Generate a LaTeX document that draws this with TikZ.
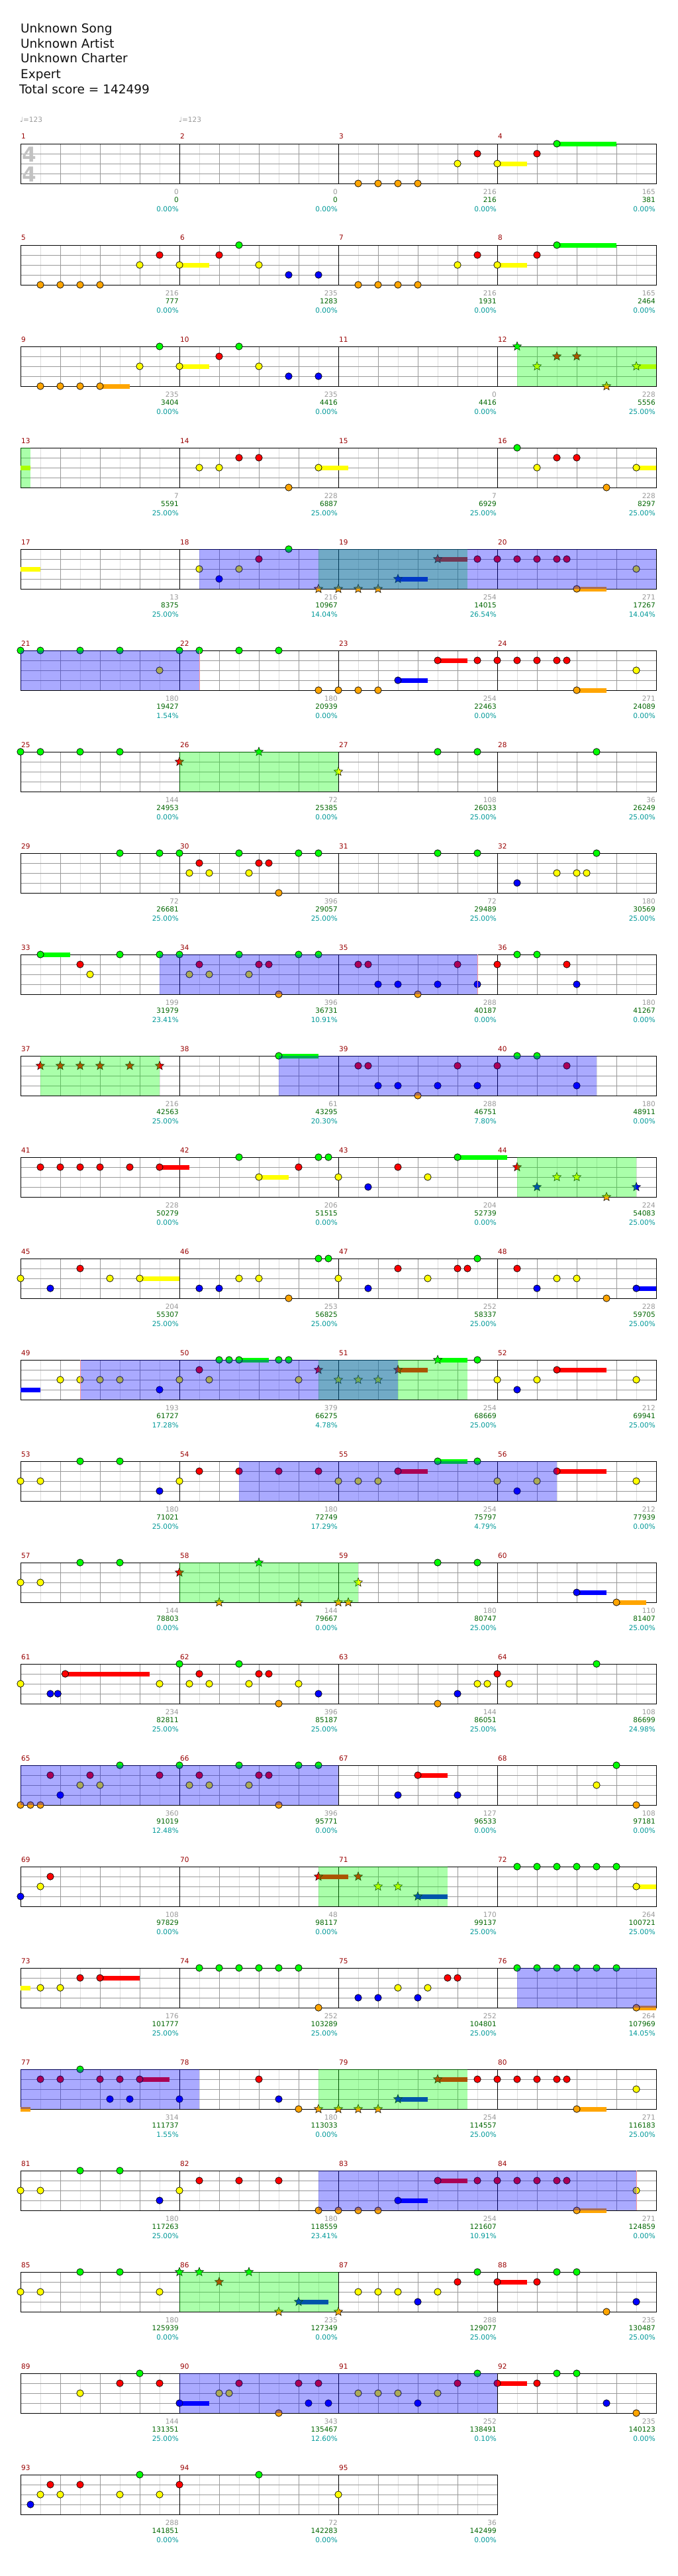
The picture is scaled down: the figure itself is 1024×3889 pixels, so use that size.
\documentclass[tikz,border=0pt]{standalone}
\usepackage{fontspec}
\setmainfont{DejaVu Sans}
\usetikzlibrary{shapes.geometric}
\definecolor{cG}{HTML}{00FF00}
\definecolor{cR}{HTML}{FF0000}
\definecolor{cY}{HTML}{FFFF00}
\definecolor{cB}{HTML}{0000FF}
\definecolor{cO}{HTML}{FFA500}
\definecolor{gridlight}{HTML}{DDDDDD}
\definecolor{gridmid}{HTML}{999999}
\definecolor{lblgray}{HTML}{999999}
\definecolor{lblgreen}{HTML}{006600}
\definecolor{lblteal}{HTML}{009999}
\definecolor{mnumred}{HTML}{990000}
\definecolor{edgec}{HTML}{FF9999}
\definecolor{hdrc}{HTML}{111111}
\tikzset{
 L0/.style={fill=cG}, L1/.style={fill=cR}, L2/.style={fill=cY}, L3/.style={fill=cB}, L4/.style={fill=cO},
 C0/.style={draw=cG}, C1/.style={draw=cR}, C2/.style={draw=cY}, C3/.style={draw=cB}, C4/.style={draw=cO},
 note/.style={draw=black, line width=0.7pt},
 starn/.style={star, star points=5, star point ratio=2.3, minimum size=14pt, inner sep=0pt, draw=black, line width=0.5pt},
 sus/.style={line width=7pt, line cap=butt},
 rowsc/.style={shift={(31pt,{-(217+153*(#1-1))*1pt})}, x=30pt, y=-15pt},
 gl/.style={draw=gridlight, line width=1pt},
 gm/.style={draw=gridmid, line width=1pt},
 smallf/.style={font=\fontsize{10.5}{12}\selectfont},
 lblg/.style={smallf, anchor=base east, inner sep=0pt, xshift=-1pt, text=lblgray},
 lbls/.style={smallf, anchor=base east, inner sep=0pt, xshift=-1pt, text=lblgreen},
 lblp/.style={smallf, anchor=base east, inner sep=0pt, xshift=-1pt, text=lblteal},
 mnum/.style={smallf, anchor=base west, inner sep=0pt, xshift=1pt, text=mnumred},
 hdr/.style={anchor=base west, inner sep=0pt, text=hdrc, font=\fontsize{18.5}{22}\selectfont},
}
\newcommand\Staff[2]{%
 \pgfmathtruncatemacro\NS{8*#2}%
 \pgfmathtruncatemacro\NL{\NS-1}%
 \foreach \i in {1,3,...,\NL} \draw[gl] (\i,0) -- (\i,4);
 \foreach \m in {1,...,#2} \foreach \b in {2,4,6} \draw[gm] ({8*(\m-1)+\b},0) -- ({8*(\m-1)+\b},4);
 \foreach \l in {1,2,3} \draw[gm] (0,\l) -- (\NS,\l);
 \foreach \m in {2,...,#2} \draw[black, line width=1pt] ({8*(\m-1)},0) -- ({8*(\m-1)},4);
 \draw[black, line width=1pt] (0,0) rectangle (\NS,4);
 \foreach \m in {1,...,#2} {\pgfmathtruncatemacro\mn{4*(#1-1)+\m}\node[mnum] at ({8*(\m-1)},-0.467) {\mn};}
}
\newcommand\Ns[2]{\foreach \q in {#2}{\filldraw[note,L#1] (\q,#1) circle[radius=5.2pt];}}
\newcommand\Ss[2]{\foreach \q in {#2}{\node[starn,L#1] at (\q,#1) {};}}
\newcommand\Su[3]{\draw[sus,C#1] (#2,#1) -- (#3,#1);}
\newcommand\GR[2]{\fill[cG, fill opacity=0.333] (#1,0) rectangle (#2,4);}
\newcommand\BR[2]{\fill[cB, fill opacity=0.333] (#1,0) rectangle (#2,4);}
\newcommand\Edge[1]{\draw[edgec, line width=1pt] (#1,0) -- (#1,4);}
\newcommand\Lab[4]{\node[lblg] at (8*#1,5.07) {#2}; \node[lbls] at (8*#1,5.93) {#3}; \node[lblp] at (8*#1,6.8) {#4\%};}
\begin{document}
\begin{tikzpicture}
\useasboundingbox[fill=white] (0,0) rectangle (1024pt,-3889pt);
% header
\node[hdr] (song) at (31pt,-49pt) {Unknown Song};
\node[hdr] (artist) at (31pt,-72pt) {Unknown Artist};
\node[hdr] (charter) at (31pt,-95pt) {Unknown Charter};
\node[hdr] (diff) at (31pt,-118pt) {Expert};
\node[hdr] (total) at (29pt,-141pt) {Total score = 142499};
\node[smallf, anchor=base west, inner sep=0pt, text=lblgray] (tempoa) at (30pt,-184pt) {♩=123};
\node[smallf, anchor=base west, inner sep=0pt, text=lblgray] (tempob) at (270pt,-184pt) {♩=123};
% row 1
\begin{scope}[rowsc=1]
\Staff{1}{4}
\node[inner sep=0pt, text=gridlight!60!gridmid, font=\bfseries\fontsize{31}{31}\selectfont] (tsa) at (0.45,1.1) {4};
\node[inner sep=0pt, text=gridlight!60!gridmid, font=\bfseries\fontsize{31}{31}\selectfont] (tsb) at (0.45,3.07) {4};
\Su{2}{24}{25.5}\Su{0}{27}{30}
\Ns{4}{17,18,19,20}\Ns{2}{22,24}\Ns{1}{23,26}\Ns{0}{27}
\Lab{1}{0}{0}{0.00}\Lab{2}{0}{0}{0.00}\Lab{3}{216}{216}{0.00}\Lab{4}{165}{381}{0.00}
\end{scope}
% row 2
\begin{scope}[rowsc=2]
\Staff{2}{4}
\Su{2}{8}{9.5}\Su{2}{24}{25.5}\Su{0}{27}{30}
\Ns{4}{1,2,3,4,17,18,19,20}\Ns{2}{6,8,12,22,24}\Ns{1}{7,10,23,26}\Ns{0}{11,27}\Ns{3}{13.5,15}
\Lab{1}{216}{777}{0.00}\Lab{2}{235}{1283}{0.00}\Lab{3}{216}{1931}{0.00}\Lab{4}{165}{2464}{0.00}
\end{scope}
% row 3
\begin{scope}[rowsc=3]
\Staff{3}{4}
\Su{4}{4}{5.5}\Su{2}{8}{9.5}\Su{2}{31}{32}
\Ns{4}{1,2,3,4}\Ns{2}{6,8,12}\Ns{0}{7,11}\Ns{1}{10}\Ns{3}{13.5,15}
\Ss{0}{25}\Ss{2}{26,31}\Ss{1}{27,28}\Ss{4}{29.5}
\GR{25}{32}
\Lab{1}{235}{3404}{0.00}\Lab{2}{235}{4416}{0.00}\Lab{3}{0}{4416}{0.00}\Lab{4}{228}{5556}{25.00}
\end{scope}
% row 4
\begin{scope}[rowsc=4]
\Staff{4}{4}
\Su{2}{0}{0.5}\Su{2}{15}{16.5}\Su{2}{31}{32}
\Ns{2}{9,10,15,26,31}\Ns{1}{11,12,27,28}\Ns{4}{13.5,29.5}\Ns{0}{25}
\GR{0}{0.5}
\Lab{1}{7}{5591}{25.00}\Lab{2}{228}{6887}{25.00}\Lab{3}{7}{6929}{25.00}\Lab{4}{228}{8297}{25.00}
\end{scope}
% row 5
\begin{scope}[rowsc=5]
\Staff{5}{4}
\Su{2}{0}{1}\Su{3}{19}{20.5}\Su{1}{21}{22.5}\Su{4}{28}{29.5}
\Ns{2}{9,11,31}\Ns{3}{10}\Ns{1}{12,23,24,25,26,27,27.5}\Ns{0}{13.5}\Ns{4}{28}
\Ss{4}{15,16,17,18}\Ss{3}{19}\Ss{1}{21}
\GR{15}{22.5}\BR{9}{32}
\Lab{1}{13}{8375}{25.00}\Lab{2}{216}{10967}{14.04}\Lab{3}{254}{14015}{26.54}\Lab{4}{271}{17267}{14.04}
\end{scope}
% row 6
\begin{scope}[rowsc=6]
\Staff{6}{4}
\Su{3}{19}{20.5}\Su{1}{21}{22.5}\Su{4}{28}{29.5}
\Ns{0}{0,1,3,5,8,9,11,13}\Ns{2}{7,31}\Ns{4}{15,16,17,18,28}\Ns{3}{19}\Ns{1}{21,23,24,25,26,27,27.5}
\BR{0}{9}\Edge{9}
\Lab{1}{180}{19427}{1.54}\Lab{2}{180}{20939}{0.00}\Lab{3}{254}{22463}{0.00}\Lab{4}{271}{24089}{0.00}
\end{scope}
% row 7
\begin{scope}[rowsc=7]
\Staff{7}{4}
\Ns{0}{0,1,3,5,21,23,29}
\Ss{1}{8}\Ss{0}{12}\Ss{2}{16}
\GR{8}{16}
\Lab{1}{144}{24953}{0.00}\Lab{2}{72}{25385}{0.00}\Lab{3}{108}{26033}{25.00}\Lab{4}{36}{26249}{25.00}
\end{scope}
% row 8
\begin{scope}[rowsc=8]
\Staff{8}{4}
\Ns{0}{5,7,8,11,14,15,21,23,29}\Ns{1}{9,12,12.5}\Ns{2}{8.5,9.5,11.5,27,28,28.5}\Ns{4}{13}\Ns{3}{25}
\Lab{1}{72}{26681}{25.00}\Lab{2}{396}{29057}{25.00}\Lab{3}{72}{29489}{25.00}\Lab{4}{180}{30569}{25.00}
\end{scope}
% row 9
\begin{scope}[rowsc=9]
\Staff{9}{4}
\Su{0}{1}{2.5}
\Ns{0}{1,5,7,8,11,14,15,25,26}\Ns{1}{3,9,12,12.5,17,17.5,22,24,27.5}\Ns{2}{3.5,8.5,9.5,11.5}\Ns{4}{13,20}\Ns{3}{18,19,21,23,28}
\BR{7}{23}\Edge{23}
\Lab{1}{199}{31979}{23.41}\Lab{2}{396}{36731}{10.91}\Lab{3}{288}{40187}{0.00}\Lab{4}{180}{41267}{0.00}
\end{scope}
% row 10
\begin{scope}[rowsc=10]
\Staff{10}{4}
\Su{0}{13}{15}
\Ss{1}{1,2,3,4,5.5,7}
\Ns{0}{13,25,26}\Ns{1}{17,17.5,22,24,27.5}\Ns{3}{18,19,21,23,28}\Ns{4}{20}
\GR{1}{7}\BR{13}{29}
\Lab{1}{216}{42563}{25.00}\Lab{2}{61}{43295}{20.30}\Lab{3}{288}{46751}{7.80}\Lab{4}{180}{48911}{0.00}
\end{scope}
% row 11
\begin{scope}[rowsc=11]
\Staff{11}{4}
\Su{1}{7}{8.5}\Su{2}{12}{13.5}\Su{0}{22}{24.5}
\Ns{1}{1,2,3,4,5.5,7,14,19}\Ns{0}{11,15,15.5,22}\Ns{2}{12,16,20.5}\Ns{3}{17.5}
\Ss{1}{25}\Ss{3}{26,31}\Ss{2}{27,28}\Ss{4}{29.5}
\GR{25}{31}
\Lab{1}{228}{50279}{0.00}\Lab{2}{206}{51515}{0.00}\Lab{3}{204}{52739}{0.00}\Lab{4}{224}{54083}{25.00}
\end{scope}
% row 12
\begin{scope}[rowsc=12]
\Staff{12}{4}
\Su{2}{6}{8}\Su{3}{31}{32}
\Ns{2}{0,4.5,6,11,12,16,20.5,27,28}\Ns{3}{1.5,9,10,17.5,26,31}\Ns{1}{3,19,22,22.5,25}\Ns{4}{13.5,29.5}\Ns{0}{15,15.5,23}
\Lab{1}{204}{55307}{25.00}\Lab{2}{253}{56825}{25.00}\Lab{3}{252}{58337}{25.00}\Lab{4}{228}{59705}{25.00}
\end{scope}
% row 13
\begin{scope}[rowsc=13]
\Staff{13}{4}
\Su{3}{0}{1}\Su{0}{11}{12.5}\Su{1}{19}{20.5}\Su{0}{21}{22.5}\Su{1}{27}{29.5}
\Ns{2}{2,3,4,5,8,9.5,14,24,26,31}\Ns{3}{7,25}\Ns{1}{9,27}\Ns{0}{10,10.5,11,13,13.5,23}
\Ss{1}{15,19}\Ss{2}{16,17,18}\Ss{0}{21}
\GR{15}{22.5}\BR{3}{19}\Edge{3}
\Lab{1}{193}{61727}{17.28}\Lab{2}{379}{66275}{4.78}\Lab{3}{254}{68669}{25.00}\Lab{4}{212}{69941}{25.00}
\end{scope}
% row 14
\begin{scope}[rowsc=14]
\Staff{14}{4}
\Su{1}{19}{20.5}\Su{0}{21}{22.5}\Su{1}{27}{29.5}
\Ns{2}{0,1,8,16,17,18,24,26,31}\Ns{0}{3,5,21,23}\Ns{3}{7,25}\Ns{1}{9,11,13,15,19,27}
\BR{11}{27}
\Lab{1}{180}{71021}{25.00}\Lab{2}{180}{72749}{17.29}\Lab{3}{254}{75797}{4.79}\Lab{4}{212}{77939}{0.00}
\end{scope}
% row 15
\begin{scope}[rowsc=15]
\Staff{15}{4}
\Su{3}{28}{29.5}\Su{4}{30}{31.5}
\Ns{2}{0,1}\Ns{0}{3,5,21,23}\Ns{3}{28}\Ns{4}{30}
\Ss{1}{8}\Ss{4}{10,14,16,16.5}\Ss{0}{12}\Ss{2}{17}
\GR{8}{17}
\Lab{1}{144}{78803}{0.00}\Lab{2}{144}{79667}{0.00}\Lab{3}{180}{80747}{25.00}\Lab{4}{110}{81407}{25.00}
\end{scope}
% row 16
\begin{scope}[rowsc=16]
\Staff{16}{4}
\Su{1}{2.25}{6.5}
\Ns{2}{0,7,8.5,9.5,11.5,14,23,23.5,24.6}\Ns{3}{1.5,1.875,15,22}\Ns{1}{2.25,9,12,12.5,24}\Ns{0}{8,11,29}\Ns{4}{13,21}
\Lab{1}{234}{82811}{25.00}\Lab{2}{396}{85187}{25.00}\Lab{3}{144}{86051}{25.00}\Lab{4}{108}{86699}{24.98}
\end{scope}
% row 17
\begin{scope}[rowsc=17]
\Staff{17}{4}
\Su{1}{20}{21.5}
\Ns{4}{0,0.5,1,13,31}\Ns{1}{1.5,3.5,7,9,12,12.5,20}\Ns{3}{2,19,22}\Ns{2}{3,4,8.5,9.5,11.5,29}\Ns{0}{5,8,11,14,15,30}
\BR{0}{16}
\Lab{1}{360}{91019}{12.48}\Lab{2}{396}{95771}{0.00}\Lab{3}{127}{96533}{0.00}\Lab{4}{108}{97181}{0.00}
\end{scope}
% row 18
\begin{scope}[rowsc=18]
\Staff{18}{4}
\Su{1}{15}{16.5}\Su{3}{20}{21.5}\Su{2}{31}{32}
\Ns{3}{0}\Ns{2}{1,31}\Ns{1}{1.5}\Ns{0}{25,26,27,28,29,30}
\Ss{1}{15,17}\Ss{2}{18,19}\Ss{3}{20}
\GR{15}{21.5}
\Lab{1}{108}{97829}{0.00}\Lab{2}{48}{98117}{0.00}\Lab{3}{170}{99137}{25.00}\Lab{4}{264}{100721}{25.00}
\end{scope}
% row 19
\begin{scope}[rowsc=19]
\Staff{19}{4}
\Su{2}{0}{0.5}\Su{1}{4}{6}\Su{4}{31}{32}
\Ns{2}{1,2,19,20.5}\Ns{1}{3,4,21.5,22}\Ns{0}{9,10,11,12,13,14,25,26,27,28,29,30}\Ns{4}{15,31}\Ns{3}{17,18,20}
\BR{25}{32}
\Lab{1}{176}{101777}{25.00}\Lab{2}{252}{103289}{25.00}\Lab{3}{252}{104801}{25.00}\Lab{4}{264}{107969}{14.05}
\end{scope}
% row 20
\begin{scope}[rowsc=20]
\Staff{20}{4}
\Su{4}{0}{0.5}\Su{1}{6}{7.5}\Su{3}{19}{20.5}\Su{1}{21}{22.5}\Su{4}{28}{29.5}
\Ns{1}{1,2,4,5,6,12,23,24,25,26,27,27.5}\Ns{0}{3}\Ns{3}{4.5,5.5,8,13}\Ns{4}{14,28}\Ns{2}{31}
\Ss{4}{15,16,17,18}\Ss{3}{19}\Ss{1}{21}
\GR{15}{22.5}\BR{0}{9}
\Lab{1}{314}{111737}{1.55}\Lab{2}{180}{113033}{0.00}\Lab{3}{254}{114557}{25.00}\Lab{4}{271}{116183}{25.00}
\end{scope}
% row 21
\begin{scope}[rowsc=21]
\Staff{21}{4}
\Su{3}{19}{20.5}\Su{1}{21}{22.5}\Su{4}{28}{29.5}
\Ns{2}{0,1,8,31}\Ns{0}{3,5}\Ns{3}{7,19}\Ns{1}{9,11,13,21,23,24,25,26,27,27.5}\Ns{4}{15,16,17,18,28}
\BR{15}{31}\Edge{31}
\Lab{1}{180}{117263}{25.00}\Lab{2}{180}{118559}{23.41}\Lab{3}{254}{121607}{10.91}\Lab{4}{271}{124859}{0.00}
\end{scope}
% row 22
\begin{scope}[rowsc=22]
\Staff{22}{4}
\Su{3}{14}{15.5}\Su{1}{24}{25.5}
\Ns{2}{0,1,7,17,18,19,21}\Ns{0}{3,5,23,27,28}\Ns{3}{20,31}\Ns{1}{22,24,26}\Ns{4}{29.5}
\Ss{0}{8,9,11.5}\Ss{1}{10}\Ss{3}{14}\Ss{4}{13,16}
\GR{8}{16}
\Lab{1}{180}{125939}{0.00}\Lab{2}{235}{127349}{0.00}\Lab{3}{288}{129077}{25.00}\Lab{4}{235}{130487}{25.00}
\end{scope}
% row 23
\begin{scope}[rowsc=23]
\Staff{23}{4}
\Su{3}{8}{9.5}\Su{1}{24}{25.5}
\Ns{2}{3,10,10.5,17,18,19,21}\Ns{1}{5,7,11,14,15,22,24,26}\Ns{0}{6,23,27,28}\Ns{3}{8,14.5,15.5,20,29.5}\Ns{4}{13,31}
\BR{8}{24}
\Lab{1}{144}{131351}{25.00}\Lab{2}{343}{135467}{12.60}\Lab{3}{252}{138491}{0.10}\Lab{4}{235}{140123}{0.00}
\end{scope}
% row 24
\begin{scope}[rowsc=24]
\Staff{24}{3}
\Ns{3}{0.5}\Ns{2}{1,2,5,7,16}\Ns{1}{1.5,3,8}\Ns{0}{6,12}
\Lab{1}{288}{141851}{0.00}\Lab{2}{72}{142283}{0.00}\Lab{3}{36}{142499}{0.00}
\end{scope}
\end{tikzpicture}
\end{document}
